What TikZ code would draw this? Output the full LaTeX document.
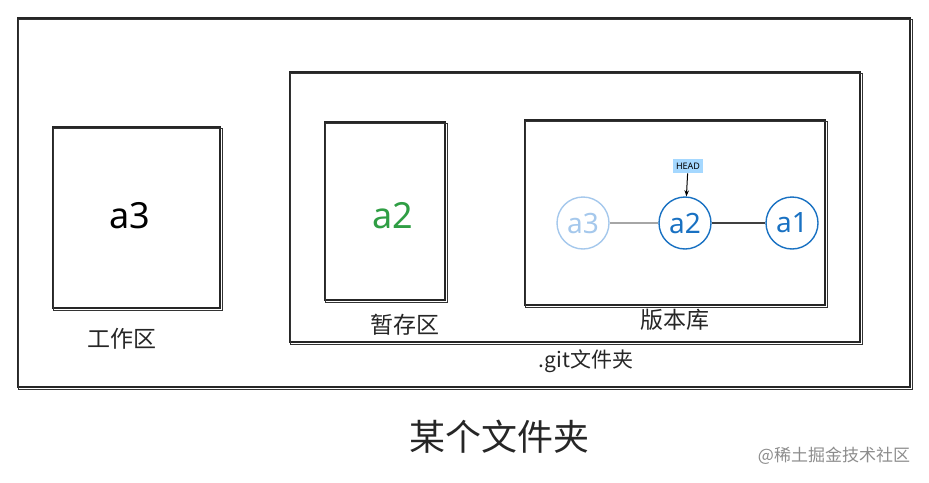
\documentclass[tikz,border=0pt]{standalone}
\usepackage{fontspec}
\setmainfont{Noto Sans}
\newfontfamily\cjk{Noto Sans CJK SC}
\usetikzlibrary{arrows.meta, positioning}
\definecolor{gitblue}{HTML}{1971C2}
\definecolor{gitpale}{HTML}{A5C8EC}
\definecolor{headfill}{HTML}{A5D8FF}
\definecolor{wkgreen}{HTML}{2F9E44}
\tikzset{
  sketch/.style = {draw=black!85, line width=1.5pt, inner sep=0pt},% hand drawn box
  lbl/.style = {font=\cjk\fontsize{23}{23}\selectfont, text=black!85},
  file/.style = {font=\fontsize{36}{36}\selectfont},
  commit/.style = {circle, draw=gitblue, text=gitblue, line width=1.4pt,
    minimum size=52pt, inner sep=0pt, font=\fontsize{28}{28}\selectfont},
  commit_old/.style = {commit, draw=gitpale, text=gitpale}
}
\begin{document}
\begin{tikzpicture}[x=1pt, y=-1pt]
  \useasboundingbox (0,0) rectangle (929,482);
  % boxes
  \node (outer) [sketch, minimum width=892pt, minimum height=369pt] at (464,202.5) {};
  \node (git) [sketch, minimum width=570pt, minimum height=270pt] at (575,207) {};
  \node (wk) [sketch, minimum width=167pt, minimum height=181pt] at (136.5,217.5) {};
  \node (stage) [sketch, minimum width=120pt, minimum height=178pt] at (385,211) {};
  \node (repo) [sketch, minimum width=300pt, minimum height=185pt] at (675,212.5) {};
  % second stroke
  \foreach \b in {outer, git, wk, stage, repo}
    \draw [black!80, line width=0.7pt] ([shift={(1.5,2)}]\b.north west)
      rectangle ([shift={(2,1.5)}]\b.south east);
  % files
  \node (f3) [file] at (130,216) {a3};
  \node (f2) [file, text=wkgreen] at (393,216) {a2};
  % commits
  \node (c3) [commit_old] at (583,223) {a3};
  \node (c2) [commit] at (685,223) {a2};
  \node (c1) [commit] at (792,223) {a1};
  \draw [gray!70, line width=1.2pt] (c3) -- (c2);
  \draw [black!75, line width=1.2pt] (c2) -- (c1);
  \node (head) [fill=headfill, inner xsep=3pt, inner ysep=4pt, font=\fontsize{9}{9}\selectfont]
    at (688,166) {HEAD};
  \draw [-{Stealth[length=6pt]}, line width=1pt] (head) -- (c2);
  % labels
  \node (lwk) [lbl] at (122,339) {工作区};
  \node (lstage) [lbl] at (405,325) {暂存区};
  \node (lrepo) [lbl] at (675,320) {版本库};
  \node (lgit) [lbl, font=\cjk\fontsize{21}{21}\selectfont] at (586,361) {.git文件夹};
  \node (title) [font=\cjk\fontsize{36}{36}\selectfont, text=black!85] at (499,437) {某个文件夹};
  \node (mark) [font=\cjk\fontsize{17}{17}\selectfont, text=black!45] at (834,456) {@稀土掘金技术社区};
\end{tikzpicture}
\end{document}
